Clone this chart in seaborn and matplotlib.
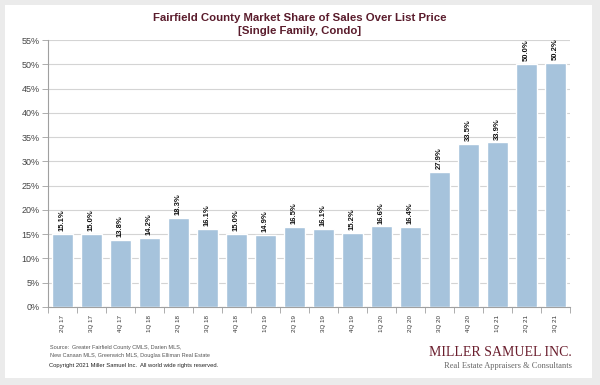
import matplotlib
matplotlib.use("Agg")
import matplotlib.pyplot as plt
import seaborn as sns
import pandas as pd
from matplotlib.patches import Rectangle
from matplotlib.ticker import FuncFormatter, MultipleLocator

quarters = ["2Q 17", "3Q 17", "4Q 17", "1Q 18", "2Q 18", "3Q 18", "4Q 18", "1Q 19", "2Q 19",
            "3Q 19", "4Q 19", "1Q 20", "2Q 20", "3Q 20", "4Q 20", "1Q 21", "2Q 21", "3Q 21"]
share_pct = [15.1, 15.0, 13.8, 14.2, 18.3, 16.1, 15.0, 14.9, 16.5,
             16.1, 15.2, 16.6, 16.4, 27.9, 33.5, 33.9, 50.0, 50.2]

df = pd.DataFrame({"quarter": quarters, "share": share_pct})

sns.set_style("white")
plt.rcParams["font.family"] = ["Liberation Sans", "DejaVu Sans"]

fig = plt.figure(figsize=(6, 3.85), dpi=100, facecolor="#ebebeb")
# white card behind everything
fig.patches.append(Rectangle((5 / 600, 7 / 385), 587 / 600, 373 / 385, transform=fig.transFigure,
                             facecolor="white", edgecolor="none", zorder=-10))
ax = fig.add_axes([48 / 600, 1 - 307 / 385, 522 / 600, 267 / 385])
ax.set_zorder(2)
ax.set_facecolor("white")

sns.barplot(data=df, x="quarter", y="share", color="#a6c3dc", saturation=1, width=0.72, ax=ax, zorder=3)

for i, v in enumerate(share_pct):
    ax.text(i, v + 0.6, f"{v:.1f}%", rotation=90, ha="center", va="bottom",
            fontsize=5.5, fontweight="bold", color="#111111", zorder=4)

ax.set_ylim(0, 55)
ax.set_xlim(-0.5, len(quarters) - 0.5)
ax.yaxis.set_major_locator(MultipleLocator(5))
ax.yaxis.set_major_formatter(FuncFormatter(lambda v, p: f"{v:.0f}%"))
ax.grid(axis="y", color="#d4d4d4", linewidth=0.8, zorder=0)
ax.set_axisbelow(True)
ax.set_xlabel("")
ax.set_ylabel("")

for s in ["top", "right"]:
    ax.spines[s].set_visible(False)
for s in ["left", "bottom"]:
    ax.spines[s].set_color("#a0a0a0")
    ax.spines[s].set_linewidth(0.8)

ax.tick_params(axis="y", labelsize=6.5, colors="#a0a0a0", labelcolor="#444444", length=4, width=0.6,
               left=True, pad=2)
ax.tick_params(axis="x", labelsize=4.5, labelrotation=90, length=0, pad=6, labelcolor="#333333")
ax.set_xticks(range(len(quarters)), minor=False)
ax.set_xticks([i + 0.5 for i in range(-1, len(quarters))], minor=True)
ax.tick_params(axis="x", which="minor", length=4, width=0.6, color="#a0a0a0", bottom=True)

fig.text(0.5, 1 - 18 / 385, "Fairfield County Market Share of Sales Over List Price",
         ha="center", va="center", fontsize=8.2, fontweight="bold", color="#5a1c2c")
fig.text(0.5, 1 - 31 / 385, "[Single Family, Condo]",
         ha="center", va="center", fontsize=8.2, fontweight="bold", color="#5a1c2c")

fig.text(50 / 600, 1 - 348 / 385, "Source:  Greater Fairfield County CMLS, Darien MLS,",
         ha="left", va="center", fontsize=4, color="#555555")
fig.text(50 / 600, 1 - 355 / 385, "New Canaan MLS, Greenwich MLS, Douglas Elliman Real Estate",
         ha="left", va="center", fontsize=4, color="#555555")
fig.text(49 / 600, 1 - 366 / 385, "Copyright 2021 Miller Samuel Inc.  All world wide rights reserved.",
         ha="left", va="center", fontsize=4.2, color="#222222")

fig.text(572 / 600, 1 - 352 / 385, "MILLER SAMUEL INC.", ha="right", va="center",
         fontsize=10, family="Liberation Serif", color="#6b1f2e")
fig.text(572 / 600, 1 - 366 / 385, "Real Estate Appraisers & Consultants", ha="right", va="center",
         fontsize=6, family="Liberation Serif", color="#666666")

fig.savefig("out.png", dpi=100, facecolor=fig.get_facecolor())
